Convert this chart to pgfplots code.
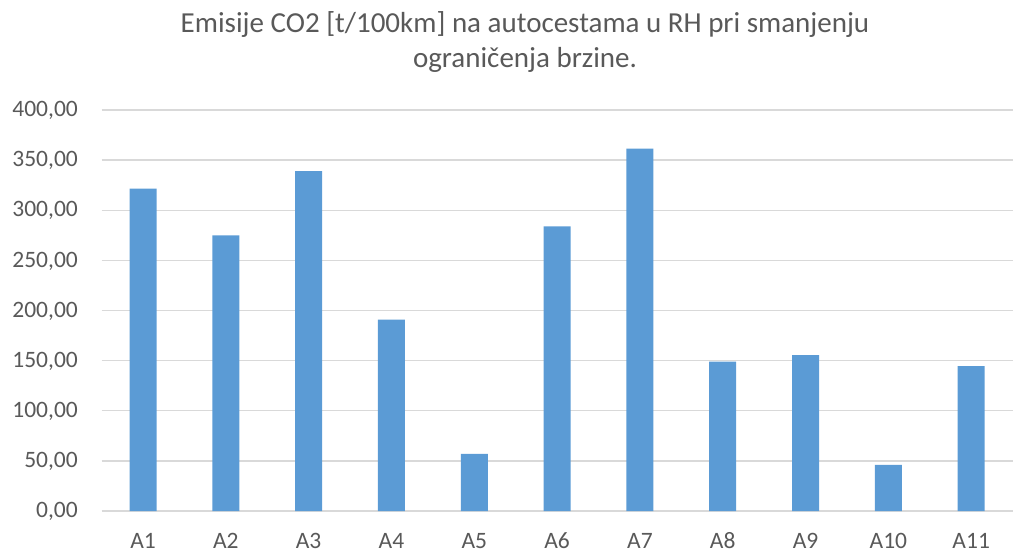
\documentclass[border=0pt]{standalone}
\usepackage{pgfplots}
\pgfplotsset{compat=1.18}
\usepackage{fontspec}
\setmainfont{Carlito}
\definecolor{barblue}{HTML}{5B9BD5}
\definecolor{txt}{HTML}{595959}
\definecolor{gridc}{HTML}{D9D9D9}
\begin{document}
\begin{tikzpicture}
\begin{axis}[
  name=ax, scale only axis, width=911bp, height=401bp,
  xmin=-0.5, xmax=10.5, ymin=0, ymax=400,
  ytick={0,50,...,400},
  xtick={0,...,10},
  xticklabels={A1,A2,A3,A4,A5,A6,A7,A8,A9,A10,A11},
  axis line style={draw=none},
  major tick length=0pt,
  ymajorgrids, grid style={gridc, line width=1.3bp},
  ybar, bar width=27bp,
  tick label style={font=\fontsize{23.5bp}{28bp}\selectfont, text=txt, inner sep=0pt},
  yticklabel style={anchor=base east, xshift=-23.6bp, yshift=-6.7bp,
    /pgf/number format/.cd, fixed, fixed zerofill, precision=2, use comma, 1000 sep={}, assume math mode=true},
  xticklabel style={anchor=base, yshift=-37bp},
]
\addplot[fill=barblue, draw=none] coordinates {(0,321.5) (1,275) (2,339) (3,191) (4,57) (5,284) (6,361.4) (7,149) (8,155.6) (9,46) (10,144.6)};
\end{axis}
\node[anchor=base, text=txt, font=\fontsize{29bp}{35bp}\selectfont, inner sep=0pt] at ([shift={(423.4bp,77bp)}]ax.north west) {Emisije CO2 [t/100km] na autocestama u RH pri smanjenju};
\node[anchor=base, text=txt, font=\fontsize{29bp}{35bp}\selectfont, inner sep=0pt] at ([shift={(423.4bp,42bp)}]ax.north west) {ograničenja brzine.};
\path ([shift={(-101.6bp,-41bp)}]ax.south west) rectangle ++(1019bp,552bp);
\end{tikzpicture}
\end{document}
